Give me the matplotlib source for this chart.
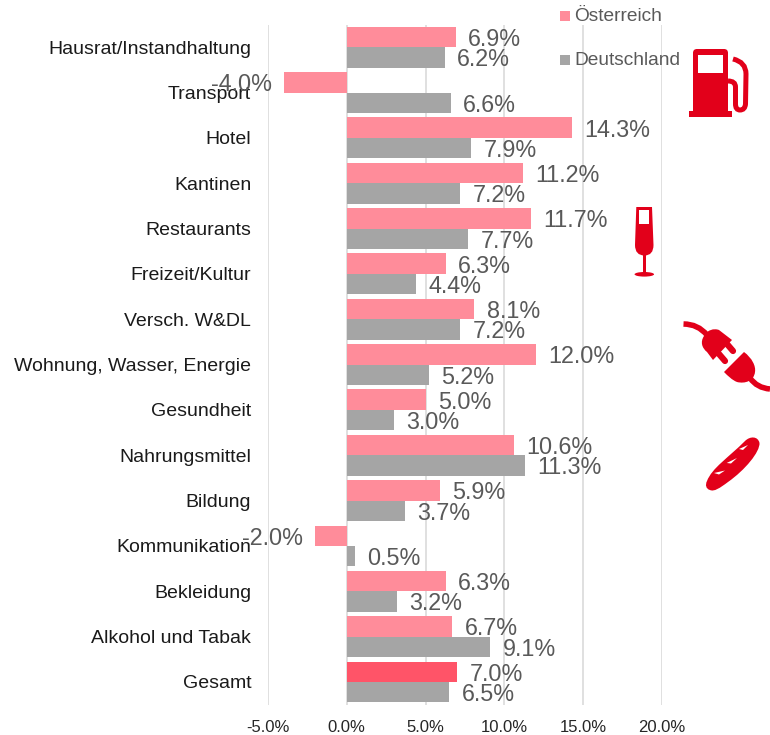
import matplotlib
matplotlib.use('Agg')
import matplotlib.pyplot as plt
from matplotlib.patches import Polygon, Rectangle, Ellipse, PathPatch
from matplotlib.path import Path

plt.rcParams['font.family'] = ['Liberation Sans', 'DejaVu Sans']

categories = ['Hausrat/Instandhaltung', 'Transport', 'Hotel', 'Kantinen', 'Restaurants',
              'Freizeit/Kultur', 'Versch. W&DL', 'Wohnung, Wasser, Energie', 'Gesundheit',
              'Nahrungsmittel', 'Bildung', 'Kommunikation', 'Bekleidung', 'Alkohol und Tabak',
              'Gesamt']
oesterreich = [6.9, -4.0, 14.3, 11.2, 11.7, 6.3, 8.1, 12.0, 5.0, 10.6, 5.9, -2.0, 6.3, 6.7, 7.0]
deutschland = [6.2, 6.6, 7.9, 7.2, 7.7, 4.4, 7.2, 5.2, 3.0, 11.3, 3.7, 0.5, 3.2, 9.1, 6.5]
xticks = [-5, 0, 5, 10, 15, 20]

PINK = '#FF8C9A'
PINK_TOTAL = '#FF5468'
GREY = '#A5A5A5'
RED = '#E2001A'
LABEL = '#595959'
W, H = 770, 735

fig = plt.figure(figsize=(W / 100, H / 100), dpi=100)
ax = fig.add_axes([268 / W, 1 - 704.6 / H, (662 - 268) / W, (704.6 - 24.5) / H])

bar_h = 0.45
for i, (a, d) in enumerate(zip(oesterreich, deutschland)):
    col = PINK_TOTAL if categories[i] == 'Gesamt' else PINK
    ax.barh(i - bar_h / 2, a, height=bar_h, color=col, zorder=3)
    ax.barh(i + bar_h / 2, d, height=bar_h, color=GREY, zorder=3)
    for val, y in ((a, i - bar_h / 2), (d, i + bar_h / 2)):
        ax.annotate(f'{val:.1f}%', (val, y), xytext=(8.8 if val >= 0 else -8.5, -1.8),
                    textcoords='offset points', ha='left' if val >= 0 else 'right',
                    va='center', fontsize=16.8, color=LABEL, zorder=5)

ax.set_xlim(-5, 20)
ax.set_ylim(len(categories) - 0.5, -0.5)
ax.set_xticks(xticks)
ax.set_xticklabels([f'{t:.1f}%' for t in xticks], fontsize=12, color='#262626')
ax.set_yticks(range(len(categories)))
ax.set_yticklabels(categories, fontsize=14, color='#1a1a1a')
ax.tick_params(axis='both', length=0)
ax.tick_params(axis='y', pad=12)
ax.tick_params(axis='x', pad=11)
ax.grid(axis='x', color='#E0E0E0', linewidth=1.4, zorder=0)
ax.set_axisbelow(True)
for s in ax.spines.values():
    s.set_visible(False)

# overlay in pixel coords for legend and icons
ov = fig.add_axes([0, 0, 1, 1], zorder=10)
ov.set_xlim(0, W)
ov.set_ylim(H, 0)
ov.axis('off')
ov.patch.set_alpha(0)

# legend
ov.add_patch(Rectangle((560, 11), 9.5, 10, color=PINK, lw=0))
ov.add_patch(Rectangle((560, 55), 9.5, 10, color=GREY, lw=0))
ov.text(574.5, 16, 'Österreich', fontsize=13.8, color=LABEL, va='center')
ov.text(574.5, 60, 'Deutschland', fontsize=13.8, color=LABEL, va='center')

M, L, Q, C, Z = Path.MOVETO, Path.LINETO, Path.CURVE3, Path.CURVE4, Path.CLOSEPOLY


def shape(pts, codes, filled=True, lw=0, cap='butt'):
    ov.add_patch(PathPatch(Path(pts, codes), fc=RED if filled else 'none',
                           ec=RED if not filled else 'none', lw=lw, capstyle=cap))


# fuel pump
shape([(693, 53), (693, 49), (697, 49), (724, 49), (728, 49), (728, 53), (728, 112), (693, 112), (693, 53)],
      [M, Q, Q, L, Q, Q, L, L, Z])
ov.add_patch(Rectangle((688.5, 111), 43.5, 5.5, color=RED, lw=0))
ov.add_patch(Rectangle((698, 55), 25, 18, color='white', lw=0))
shape([(733, 59), (746, 62), (746, 74), (745.5, 104), (745, 110), (740, 110), (735.5, 110), (735.5, 104),
       (735.5, 87), (735.5, 81), (728, 81)],
      [M, Q, Q, L, Q, Q, Q, Q, L, Q, Q], filled=False, lw=3.6)

# wine glass
shape([(636.3, 207), (652, 207), (653.5, 245), (653.5, 255.5), (644.5, 255.5), (635, 255.5), (635, 245), (636.3, 207)],
      [M, L, L, Q, Q, Q, Q, Z])
ov.add_patch(Rectangle((639, 209.5), 10.3, 14.5, color='white', lw=0))
ov.add_patch(Rectangle((643, 255), 2.8, 18, color=RED, lw=0))
ov.add_patch(Ellipse((644.3, 274.3), 19.5, 4.6, color=RED, lw=0))

# plug
shape([(683.5, 324), (698, 324), (707, 335)], [M, Q, Q], filled=False, lw=4.0)
shape([(704, 336), (707, 330), (714, 328), (719, 330), (732, 340), (713, 360), (707, 352),
       (702, 348), (700, 342), (704, 336), (704, 336)],
      [M, C, C, C, L, L, L, C, C, C, Z])
shape([(727, 344), (733, 351)], [M, L], filled=False, lw=4.5, cap='round')
shape([(719, 354), (725, 361)], [M, L], filled=False, lw=4.5, cap='round')
shape([(744, 352), (752, 358), (756, 366), (755, 372), (754, 381), (745, 384), (737, 382),
       (732, 380), (728, 376), (724, 372), (724, 372)],
      [M, C, C, C, C, C, C, C, C, C, Z])
shape([(750, 378), (757, 388), (770, 389)], [M, Q, Q], filled=False, lw=4.0)

# baguette
shape([(707, 481), (712, 468), (728, 458), (745, 441), (750, 436), (758, 436), (759.5, 443),
       (760, 452), (745, 470), (728, 482), (720, 488), (714, 492), (710, 490),
       (706, 489), (705, 485), (707, 481), (707, 481)],
      [M, C, C, C, C, C, C, C, C, C, C, C, C, C, C, C, Z])
ov.add_patch(Polygon([(739, 449), (748, 445), (743, 450)], color='white', lw=0))
ov.add_patch(Polygon([(726.7, 463), (737, 458), (731, 463.5)], color='white', lw=0))
ov.add_patch(Polygon([(714, 473), (725, 470.5), (719, 474.5)], color='white', lw=0))

fig.savefig('out.png', dpi=100)
